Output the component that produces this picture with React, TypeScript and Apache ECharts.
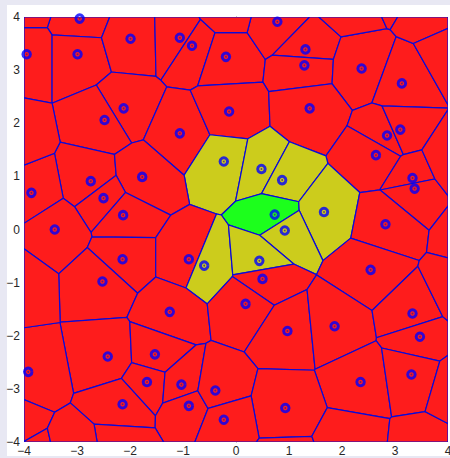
import React, { useEffect, useRef } from "react";
import * as echarts from "echarts";

// Visible Voronoi sites (plotted as blue rings)
const siteX = [
  -2.95, -3.95, -2.99, -1.99, -1.06, -0.83, -0.19, 0.78, 1.31, 1.29,
  2.37, 3.13, -2.12, -2.48, -1.06, -0.13, 1.39, 2.85, 3.1, 2.64,
  -0.23, 0.48, 0.87, -2.74, -1.77, -3.86, -2.5, -2.13, -3.42, 0.73,
  1.66, 3.33, 3.37, 2.82, 0.92, -2.14, -2.52, -0.89, -0.6, 0.44,
  0.5, 2.54, -1.25, 0.18, 0.97, 1.86, 3.33, 3.47, -2.42, -1.53,
  -3.92, -1.68, -1.03, 2.35, 3.31, -2.14, -0.89, -0.39, 0.93, -0.23,
];
const siteY = [
  3.97, 3.3, 3.3, 3.59, 3.61, 3.46, 3.25, 3.91, 3.39, 3.09,
  3.03, 2.75, 2.28, 2.06, 1.81, 2.22, 2.28, 1.77, 1.88, 1.4,
  1.28, 1.14, 0.93, 0.91, 0.99, 0.69, 0.59, 0.27, 0.0, 0.28,
  0.33, 0.97, 0.77, 0.1, -0.02, -0.56, -0.98, -0.56, -0.68, -0.59,
  -0.93, -0.76, -1.55, -1.4, -1.91, -1.82, -1.58, -2.02, -2.39, -2.35,
  -2.68, -2.87, -2.92, -2.87, -2.73, -3.29, -3.32, -3.03, -3.36, -3.58,
];
// Sites lying outside the visible window (their cells reach into it)
const outerX = [
  -3.95, -0.19, 2.14, 2.9, 3.71, 4.1, 4.02, 4.47, 4.2, -4.31,
  -3.85, -2.19, -2.99, 0.97, 2.15, 3.54, 4.16, -4.16, -4.25,
];
const outerY = [
  4.3, 4.16, 4.32, 4.67, 4.19, 3.3, 1.28, -0.09, -1.15, -3.63,
  -4.44, -4.1, -4.24, -4.46, -4.02, -4.17, -2.98, -1.03, 1.69,
];

// index of the highlighted (green) site; its Voronoi neighbours are yellow
const focusSite = 29;

const axisTicks = [-4, -3, -2, -1, 0, 1, 2, 3, 4];

type P = [number, number];

function voronoiCell(i: number, xs: number[], ys: number[], lo: number, hi: number) {
  let pts: P[] = [[lo, lo], [hi, lo], [hi, hi], [lo, hi]];
  let labels: number[] = [-1, -1, -1, -1];
  for (let j = 0; j < xs.length; j++) {
    if (j === i) continue;
    const dx = xs[j] - xs[i];
    const dy = ys[j] - ys[i];
    const c = (xs[j] * xs[j] + ys[j] * ys[j] - xs[i] * xs[i] - ys[i] * ys[i]) / 2;
    const f = (p: P) => dx * p[0] + dy * p[1] - c;
    const np: P[] = [];
    const nl: number[] = [];
    const n = pts.length;
    for (let k = 0; k < n; k++) {
      const A = pts[k];
      const B = pts[(k + 1) % n];
      const L = labels[k];
      const fa = f(A);
      const fb = f(B);
      const ina = fa <= 0;
      const inb = fb <= 0;
      if (ina) {
        np.push(A);
        nl.push(L);
      }
      if (ina !== inb) {
        const t = fa / (fa - fb);
        const I: P = [A[0] + t * (B[0] - A[0]), A[1] + t * (B[1] - A[1])];
        np.push(I);
        nl.push(ina ? j : L);
      }
    }
    pts = np;
    labels = nl;
    if (pts.length === 0) break;
  }
  return { pts, labels };
}

export default function App() {
  const ref = useRef<HTMLDivElement>(null);
  useEffect(() => {
    if (!ref.current) return;
    const chart = echarts.init(ref.current, undefined, { renderer: "svg" });
    const allX = siteX.concat(outerX);
    const allY = siteY.concat(outerY);
    const cells = allX.map((_, i) => voronoiCell(i, allX, allY, -4, 4));
    const neighbours = new Set(cells[focusSite].labels.filter((l) => l >= 0));
    const cellColor = (i: number) =>
      i === focusSite ? "#1cff1c" : neighbours.has(i) ? "#cccc1c" : "#fe1c1c";
    const fmt = (v: number) => String(v).replace("-", "\u2212");

    chart.setOption({
      animation: false,
      backgroundColor: "transparent",
      grid: { left: 24, right: 2, top: 17, bottom: 16, containLabel: false, outerBoundsMode: "none" },
      xAxis: {
        type: "value",
        min: -4,
        max: 4,
        interval: 1,
        splitLine: { show: false },
        axisLine: { show: false },
        axisTick: { show: false },
        axisLabel: {
          color: "#262626",
          fontSize: 12,
          fontFamily: "Liberation Sans, Arial, sans-serif",
          margin: 3,
          formatter: fmt,
          customValues: axisTicks,
        },
      },
      yAxis: {
        type: "value",
        min: -4,
        max: 4,
        interval: 1,
        splitLine: { show: false },
        axisLine: { show: true, lineStyle: { color: "#777", width: 1 } },
        axisTick: { show: false },
        axisLabel: {
          color: "#262626",
          fontSize: 12,
          fontFamily: "Liberation Sans, Arial, sans-serif",
          margin: 4,
          formatter: fmt,
          customValues: axisTicks,
        },
      },
      series: [
        {
          type: "custom",
          clip: true,
          data: cells.map((_, i) => i),
          renderItem: (params: any, api: any) => {
            const idx = params.dataIndex;
            const cell = cells[idx];
            if (!cell.pts.length) return null;
            return {
              type: "polygon",
              shape: { points: cell.pts.map((p) => api.coord(p)) },
              style: { fill: cellColor(idx), stroke: "#0a0ad8", lineWidth: 1.2 },
            };
          },
          z: 1,
        },
        {
          type: "scatter",
          data: siteX.map((x, i) => [x, siteY[i]]),
          symbol: "circle",
          symbolSize: 7.5,
          itemStyle: { color: "transparent", borderColor: "#0000ff", borderWidth: 3 },
          z: 3,
        },
        {
          type: "scatter",
          data: siteX.map((x, i) => [x, siteY[i]]),
          symbol: "circle",
          symbolSize: 1.8,
          itemStyle: { color: "#3a1a90" },
          z: 4,
        },
      ],
    });
    return () => chart.dispose();
  }, []);

  return (
    <div style={{ position: "absolute", left: 0, top: 0, width: 450, height: 458, background: "#e8e8f3" }}>
      <div style={{ position: "absolute", left: 7, top: 5, width: 443, height: 451, background: "#ffffff" }} />
      <div ref={ref} style={{ position: "absolute", left: 0, top: 0, width: 450, height: 458 }} />
    </div>
  );
}
